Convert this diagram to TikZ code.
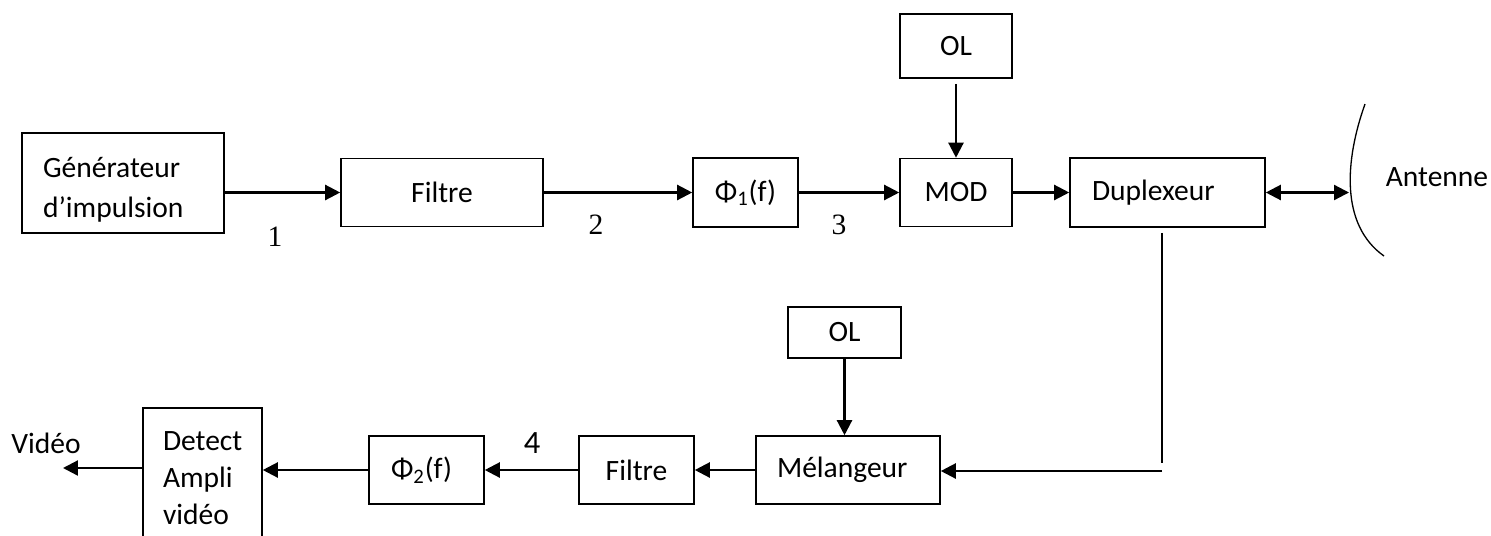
\documentclass[tikz,border=0pt]{standalone}
\usepackage{fontspec}
\setmainfont{Carlito}
\newfontfamily\timesfont{Liberation Serif}
\usetikzlibrary{arrows.meta}

\begin{document}
\begin{tikzpicture}[x=0.02cm,y=-0.02cm,
  font=\fontsize{16.8}{21}\selectfont,
  box/.style n args={2}{draw,line width=0.9pt,inner sep=0pt,
    minimum width=#1*0.02cm,minimum height=#2*0.02cm},
  arr/.style={-{Triangle[length=0.3cm,width=0.3cm]},line width=1.3pt},
  num/.style={font=\timesfont\fontsize{16.8}{20}\selectfont}]
\useasboundingbox (0,0) rectangle (1491,535);
\clip (0,0) rectangle (1491,535);
% emission
\node[box={202}{100}] (gen) at (123,183) {};
\node[align=left,text width=3.2cm] (gentxt) at (123,190) {Générateur\\[2pt]d’impulsion};
\node[box={202}{68}] (filt1) at (442,192.5) {Filtre};
\node[box={105}{69}] (phi1) at (745.5,192.5) {Φ\textsubscript{1}(f)};
\node[box={112}{68}] (mod) at (956,192.5) {MOD};
\node[box={112}{64}] (ol1) at (956,46) {OL};
\node[box={195}{69},align=left,text width=3.02cm] (dup) at (1167.5,192.5) {Duplexeur};
\coordinate (ant) at (1349,190);
\draw[line width=0.75pt] (1365,104) .. controls (1345,160) and (1340,225) .. (1384,256);
\node (antxt) at (1437,177) {Antenne};
\draw[arr] (filt1.west -| gen.east) -- (filt1.west);
\draw[arr] (filt1) -- (phi1);
\draw[arr] (phi1) -- (mod);
\draw[arr] (mod) -- (dup);
\draw[arr,shorten <=0.1cm] (ol1.south) -- (mod.north);
\draw[{Triangle[length=0.3cm,width=0.3cm]}-{Triangle[length=0.3cm,width=0.3cm]},line width=1.3pt] (dup.east) -- (dup.east -| ant);
\node[num] (n1) at (275,237) {1};
\node[num] (n2) at (596,225) {2};
\node[num] (n3) at (839,225) {3};
% reception
\node[box={113}{51}] (ol2) at (844.5,332.5) {OL};
\node[box={184}{68},align=left,text width=2.84cm] (mel) at (848,470) {Mélangeur};
\node[box={115}{68}] (filt2) at (636.5,470) {Filtre};
\node[box={115}{68},align=left,text width=1.42cm] (phi2) at (426.5,470) {Φ\textsubscript{2}(f)};
\node[box={119}{140},align=left,text width=1.58cm] (det) at (202.5,478) {Detect\\Ampli\\vidéo};
\node (vtxt) at (46,443) {Vidéo};
\coordinate (vid) at (63,468);
\coordinate (coin) at (1162,471);
\draw[line width=0.85pt] ([yshift=-0.1cm]coin |- dup.south) -- ([yshift=0.16cm]coin);
\draw[arr] (coin) -- (coin -| mel.east);
\draw[arr] (ol2.south) -- (ol2.south |- mel.north);
\draw[arr] (mel) -- (filt2);
\draw[arr] (filt2) -- (phi2);
\draw[arr] (phi2.west) -- (phi2.west -| det.east);
\draw[arr] (vid -| det.west) -- (vid);
\node[font=\fontsize{18.5}{20}\selectfont] (n4) at (532,443) {4};
\end{tikzpicture}
\end{document}
